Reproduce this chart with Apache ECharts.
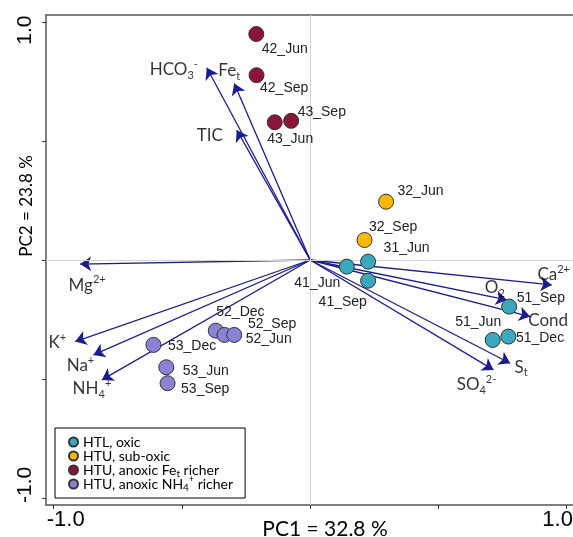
<!DOCTYPE html>
<html><head><meta charset="utf-8">
<script src="https://cdn.jsdelivr.net/npm/echarts@6/dist/echarts.min.js"></script>
<style>html,body{margin:0;padding:0;background:#fff}#c{width:573px;height:537px}</style>
</head><body><div id="c"></div>
<script>
// ---- data ----
const groupNames = ['HTL, oxic', 'HTU, sub-oxic', 'HTU, anoxic Fet richer', 'HTU, anoxic NH4+ richer'];

const oxicSamples = ['41_Jun', '31_Jun', '41_Sep', '51_Sep', '51_Jun', '51_Dec'];
const oxicPC1 = [0.143, 0.226, 0.226, 0.776, 0.712, 0.773];
const oxicPC2 = [-0.028, -0.007, -0.087, -0.196, -0.336, -0.322];

const suboxicSamples = ['32_Jun', '32_Sep'];
const suboxicPC1 = [0.296, 0.212];
const suboxicPC2 = [0.245, 0.084];

const feSamples = ['42_Jun', '42_Sep', '43_Jun', '43_Sep'];
const fePC1 = [-0.210, -0.209, -0.138, -0.074];
const fePC2 = [0.950, 0.777, 0.579, 0.585];

const nh4Samples = ['52_Dec', '52_Sep', '52_Jun', '53_Dec', '53_Jun', '53_Sep'];
const nh4PC1 = [-0.368, -0.334, -0.296, -0.611, -0.561, -0.556];
const nh4PC2 = [-0.297, -0.315, -0.315, -0.357, -0.451, -0.518];

const varNames = ['HCO3-', 'Fet', 'TIC', 'Mg2+', 'K+', 'Na+', 'NH4+', 'Ca2+', 'O2', 'Cond', 'St', 'SO42-'];
const varPC1 = [-0.403, -0.296, -0.286, -0.897, -0.916, -0.845, -0.812, 0.942, 0.767, 0.858, 0.780, 0.715];
const varPC2 = [0.808, 0.742, 0.546, -0.017, -0.343, -0.399, -0.504, -0.105, -0.168, -0.238, -0.434, -0.462];

const xTicks = [-1, -0.5, 0, 0.5, 1];
const yTicks = [-1, -0.5, 0, 0.5, 1];
const tickLabels = [-1, 1];

// ---- styles ----
const colors = ['#3ba8bd', '#fbb80a', '#8a1538', '#8b82d6'];
const arrowColor = '#1c1c90';
const calibri = 'Lato, "Open Sans", sans-serif';
const arial = '"Liberation Sans", Arial, sans-serif';

const richVar = {
  sub: {fontSize: 11, fontFamily: calibri, color: '#000', verticalAlign: 'bottom'},
  sup: {fontSize: 11, fontFamily: calibri, color: '#000', verticalAlign: 'top'}
};
const varRich = {
  'HCO3-': 'HCO{sub|3}{sup|-}', 'Fet': 'Fe{sub|t}', 'TIC': 'TIC', 'Mg2+': 'Mg{sup|2+}',
  'K+': 'K{sup|+}', 'Na+': 'Na{sup|+}', 'NH4+': 'NH{sub|4}{sup|+}', 'Ca2+': 'Ca{sup|2+}',
  'O2': 'O{sub|2}', 'Cond': 'Cond', 'St': 'S{sub|t}', 'SO42-': 'SO{sub|4}{sup|2-}'
};
// label centre offsets (px) from arrow tip
const varOffset = {
  'HCO3-': [-33, 2], 'Fet': [-5, -13], 'TIC': [-27, 5], 'Mg2+': [7, 21], 'K+': [-18, 1],
  'Na+': [-13, 11], 'NH4+': [-10, 9], 'Ca2+': [2, -10], 'O2': [-12, -12], 'Cond': [18, 4],
  'St': [11, 4], 'SO42-': [-17, 15]
};
// sample label (left edge, middle) offsets (px) from point centre
const sampleOffset = {
  '42_Jun': [6, 16], '42_Sep': [4, 13], '43_Sep': [7, -8], '43_Jun': [-7, 17],
  '32_Jun': [12, -10], '32_Sep': [5, -12], '31_Jun': [16, -13], '41_Jun': [-52, 17],
  '41_Sep': [-49, 22], '51_Sep': [8, -8], '51_Jun': [-37, -17], '51_Dec': [8, 2],
  '52_Dec': [1, -18], '52_Sep': [24, -10], '52_Jun': [12, 5], '53_Dec': [15, 2],
  '53_Jun': [17, 4], '53_Sep': [14, 6]
};
const legendRich = {
  'HTL, oxic': 'HTL, oxic', 'HTU, sub-oxic': 'HTU, sub-oxic',
  'HTU, anoxic Fet richer': 'HTU, anoxic Fe{sub|t} richer',
  'HTU, anoxic NH4+ richer': 'HTU, anoxic NH{sub|4}{sup|+} richer'
};

const SYM = 15;
function sampleSeries(name, names, pc1, pc2, color) {
  return {
    type: 'scatter', name: name, z: 5,
    symbol: 'circle', symbolSize: SYM,
    itemStyle: {color: color, borderColor: '#333', borderWidth: 1, opacity: 1},
    data: names.map((n, i) => ({
      value: [pc1[i], pc2[i]], name: n,
      label: {position: [SYM / 2 + sampleOffset[n][0], SYM / 2 + sampleOffset[n][1]]}
    })),
    label: {
      show: true, formatter: p => p.name, align: 'left', verticalAlign: 'middle',
      fontFamily: arial, fontSize: 14, color: '#222'
    }
  };
}

const axisLineStyle = {color: '#555', width: 1.5};

const option = {
  animation: false,
  backgroundColor: '#fff',
  grid: {left: 46, right: 0, top: 15, bottom: 32, containLabel: false, outerBoundsMode: 'none'},
  xAxis: [{
    type: 'value', min: -1.03, max: 1.025,
    axisLine: {show: true, onZero: false, lineStyle: axisLineStyle},
    axisTick: {show: true, length: 4, customValues: xTicks, lineStyle: {color: '#333', width: 1}},
    splitLine: {show: false},
    axisLabel: {
      show: true, customValues: tickLabels, margin: 4,
      formatter: v => (v < 0 ? '{lo|' : '{hi|') + v.toFixed(1) + '}',
      rich: {
        lo: {fontFamily: arial, fontSize: 22, color: '#000', padding: [0, 0, 0, 24]},
        hi: {fontFamily: arial, fontSize: 22, color: '#000', padding: [0, 18, 0, 0]}
      }
    },
    name: 'PC1 = 32.8 %', nameLocation: 'middle', nameGap: 14, nameMoveOverlap: false,
    nameTextStyle: {fontFamily: calibri, fontSize: 21, color: '#000', padding: [0, 0, 0, 31]}
  }, {
    type: 'value', min: -1.03, max: 1.025, position: 'top',
    axisLine: {show: true, onZero: false, lineStyle: axisLineStyle},
    axisTick: {show: false}, axisLabel: {show: false}, splitLine: {show: false}
  }],
  yAxis: {
    type: 'value', min: -1.03, max: 1.03,
    axisLine: {show: true, onZero: false, lineStyle: axisLineStyle},
    axisTick: {show: true, length: 4, customValues: yTicks, lineStyle: {color: '#333', width: 1}},
    splitLine: {show: false},
    axisLabel: {
      show: true, customValues: tickLabels, rotate: 90, margin: 10,
      formatter: v => (v < 0 ? '{lo|' : '{hi|') + v.toFixed(1) + '}',
      rich: {
        lo: {fontFamily: arial, fontSize: 21, color: '#000', padding: [0, 0, 0, 26]},
        hi: {fontFamily: arial, fontSize: 21, color: '#000', padding: [0, 16, 0, 0]}
      }
    },
    name: 'PC2 = 23.8 %', nameLocation: 'middle', nameGap: 11, nameRotate: 90, nameMoveOverlap: false,
    nameTextStyle: {fontFamily: calibri, fontSize: 17, color: '#000', padding: [0, 0, 0, 108]}
  },
  legend: {
    data: groupNames, orient: 'vertical', left: 55, top: 428,
    borderColor: '#000', borderWidth: 1, backgroundColor: '#fff',
    padding: [5, 12, 5, 13], itemGap: -4, itemWidth: 9, itemHeight: 9, icon: 'circle',
    formatter: n => legendRich[n],
    textStyle: {
      fontFamily: calibri, fontSize: 14, color: '#000', lineHeight: 18,
      rich: {
        sub: {fontFamily: calibri, fontSize: 10, color: '#000', verticalAlign: 'bottom', lineHeight: 18},
        sup: {fontFamily: calibri, fontSize: 9, color: '#000', verticalAlign: 'top', lineHeight: 18}
      }
    }
  },
  series: [
    {
      type: 'scatter', name: 'zero', z: 1, data: [], silent: true,
      markLine: {
        silent: true, symbol: 'none', label: {show: false},
        lineStyle: {color: '#d4d4d4', width: 1, type: 'solid'},
        data: [{xAxis: 0}, {yAxis: 0}]
      }
    },
    {
      type: 'lines', name: 'loadings', coordinateSystem: 'cartesian2d', z: 3,
      symbol: ['none', 'arrow'], symbolSize: [8, 11],
      lineStyle: {color: arrowColor, width: 1.3, opacity: 1},
      data: varNames.map((n, i) => ({coords: [[0, 0], [varPC1[i], varPC2[i]]]}))
    },
    {
      type: 'scatter', name: 'loadingLabels', z: 4, symbolSize: 2, silent: true,
      itemStyle: {color: 'transparent'},
      data: varNames.map((n, i) => ({
        value: [varPC1[i], varPC2[i]], name: n,
        label: {position: [1 + varOffset[n][0], 1 + varOffset[n][1]]}
      })),
      label: {
        show: true, formatter: p => varRich[p.name], align: 'center', verticalAlign: 'middle',
        fontFamily: calibri, fontSize: 17, color: '#000', lineHeight: 22, rich: richVar
      }
    },
    sampleSeries(groupNames[0], oxicSamples, oxicPC1, oxicPC2, colors[0]),
    sampleSeries(groupNames[1], suboxicSamples, suboxicPC1, suboxicPC2, colors[1]),
    sampleSeries(groupNames[2], feSamples, fePC1, fePC2, colors[2]),
    sampleSeries(groupNames[3], nh4Samples, nh4PC1, nh4PC2, colors[3])
  ]
};
const chart = echarts.init(document.getElementById('c'), null, {renderer: 'canvas'});
chart.setOption(option);
</script></body></html>
